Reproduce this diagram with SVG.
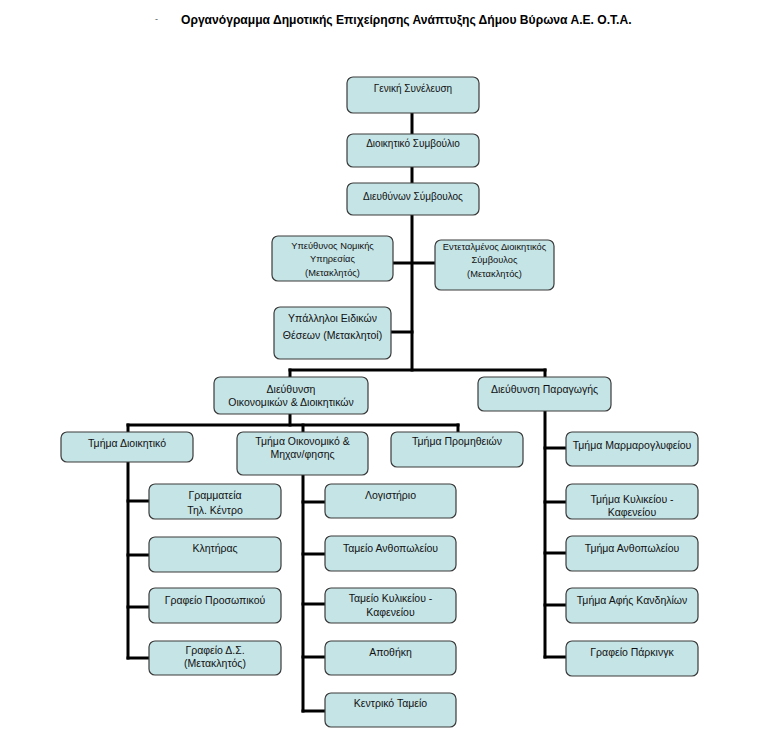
<svg xmlns="http://www.w3.org/2000/svg" width="781" height="735" viewBox="0 0 781 735">
<style>
.n rect{fill:#c5e4e6;stroke:#3a3a3a;stroke-width:1.2}
.n text{font-family:"Liberation Sans",Arial,sans-serif;font-size:10.5px;fill:#111;text-anchor:middle}
.s text{font-size:10px}
.s.t text{font-size:9.3px}
.c line{stroke:#000;stroke-width:3;stroke-linecap:square}
</style>
<rect width="781" height="735" fill="#fff"/>
<text x="155" y="22" font-family="Liberation Sans,Arial,sans-serif" font-size="9" fill="#555">-</text>
<text x="181" y="24" font-family="Liberation Sans,Arial,sans-serif" font-size="12.1" font-weight="bold" fill="#000">Οργανόγραμμα Δημοτικής Επιχείρησης Ανάπτυξης Δήμου Βύρωνα Α.Ε. Ο.Τ.Α.</text>
<g id="connectors" class="c">
<line x1="412" y1="113" x2="412" y2="370"/>
<line x1="393" y1="263" x2="435" y2="263"/>
<line x1="391" y1="332" x2="412" y2="332"/>
<line x1="290" y1="370" x2="545" y2="370"/>
<line x1="290" y1="370" x2="290" y2="425"/>
<line x1="545" y1="370" x2="545" y2="657"/>
<line x1="128" y1="425" x2="458" y2="425"/>
<line x1="458" y1="425" x2="458" y2="432"/>
<line x1="128" y1="425" x2="128" y2="658"/>
<line x1="128" y1="501" x2="149" y2="501"/>
<line x1="128" y1="555" x2="149" y2="555"/>
<line x1="128" y1="607" x2="149" y2="607"/>
<line x1="128" y1="658" x2="149" y2="658"/>
<line x1="303" y1="425" x2="303" y2="711"/>
<line x1="303" y1="502" x2="325" y2="502"/>
<line x1="303" y1="554" x2="325" y2="554"/>
<line x1="303" y1="604" x2="325" y2="604"/>
<line x1="303" y1="657" x2="325" y2="657"/>
<line x1="303" y1="711" x2="325" y2="711"/>
<line x1="545" y1="448" x2="566" y2="448"/>
<line x1="545" y1="502" x2="566" y2="502"/>
<line x1="545" y1="553" x2="566" y2="553"/>
<line x1="545" y1="605" x2="566" y2="605"/>
<line x1="545" y1="657" x2="566" y2="657"/>
</g>
<g id="n1" class="n s"><rect x="347" y="77" width="132" height="36" rx="6"/><text x="413" y="92">Γενική Συνέλευση</text></g>
<g id="n2" class="n s"><rect x="347" y="134" width="132" height="33" rx="6"/><text x="413" y="146.5">Διοικητικό Συμβούλιο</text></g>
<g id="n3" class="n s"><rect x="347" y="183" width="132" height="32" rx="6"/><text x="413" y="200">Διευθύνων Σύμβουλος</text></g>
<g id="n4" class="n s t"><rect x="272" y="236" width="121" height="45" rx="6"/><text x="332.5" y="248.5">Υπεύθυνος Νομικής</text><text x="332.5" y="262">Υπηρεσίας</text><text x="332.5" y="275.5">(Μετακλητός)</text></g>
<g id="n5" class="n s t"><rect x="435" y="240" width="119" height="50" rx="6"/><text x="494.5" y="249.5">Εντεταλμένος Διοικητικός</text><text x="494.5" y="263">Σύμβουλος</text><text x="494.5" y="276.5">(Μετακλητός)</text></g>
<g id="n6" class="n"><rect x="274" y="307" width="117" height="52" rx="6"/><text x="332.5" y="322">Υπάλληλοι Ειδικών</text><text x="332.5" y="339">Θέσεων (Μετακλητοί)</text></g>
<g id="n7" class="n"><rect x="214" y="377" width="154" height="37" rx="6"/><text x="291" y="393">Διεύθυνση</text><text x="291" y="406">Οικονομικών &amp; Διοικητικών</text></g>
<g id="n8" class="n"><rect x="478" y="377" width="133" height="34" rx="6"/><text x="544.5" y="393">Διεύθυνση Παραγωγής</text></g>
<g id="n9" class="n"><rect x="61" y="432" width="132" height="30" rx="6"/><text x="127" y="447">Τμήμα Διοικητικό</text></g>
<g id="n10" class="n"><rect x="237" y="432" width="131" height="43" rx="6"/><text x="302.5" y="445">Τμήμα Οικονομικό &amp;</text><text x="302.5" y="458">Μηχαν/φησης</text></g>
<g id="n11" class="n"><rect x="391" y="432" width="132" height="35" rx="6"/><text x="457" y="445">Τμήμα Προμηθειών</text></g>
<g id="n12" class="n"><rect x="149" y="484" width="132" height="35" rx="6"/><text x="215" y="499">Γραμματεία</text><text x="215" y="514">Τηλ. Κέντρο</text></g>
<g id="n13" class="n"><rect x="149" y="537" width="132" height="35" rx="6"/><text x="215" y="552">Κλητήρας</text></g>
<g id="n14" class="n"><rect x="149" y="588" width="132" height="35" rx="6"/><text x="215" y="604">Γραφείο Προσωπικού</text></g>
<g id="n15" class="n"><rect x="149" y="641" width="132" height="34" rx="6"/><text x="215" y="654">Γραφείο Δ.Σ.</text><text x="215" y="667">(Μετακλητός)</text></g>
<g id="n16" class="n"><rect x="325" y="484" width="131" height="34" rx="6"/><text x="390.5" y="499">Λογιστήριο</text></g>
<g id="n17" class="n"><rect x="325" y="536" width="131" height="35" rx="6"/><text x="390.5" y="552">Ταμείο Ανθοπωλείου</text></g>
<g id="n18" class="n"><rect x="325" y="588" width="131" height="35" rx="6"/><text x="390.5" y="602">Ταμείο Κυλικείου -</text><text x="390.5" y="616">Καφενείου</text></g>
<g id="n19" class="n"><rect x="325" y="641" width="131" height="34" rx="6"/><text x="390.5" y="656">Αποθήκη</text></g>
<g id="n20" class="n"><rect x="325" y="693" width="131" height="34" rx="6"/><text x="390.5" y="707">Κεντρικό Ταμείο</text></g>
<g id="n21" class="n"><rect x="566" y="432" width="132" height="34" rx="6"/><text x="632" y="449">Τμήμα Μαρμαρογλυφείου</text></g>
<g id="n22" class="n"><rect x="566" y="484" width="132" height="35" rx="6"/><text x="632" y="503">Τμήμα Κυλικείου -</text><text x="632" y="516">Καφενείου</text></g>
<g id="n23" class="n"><rect x="566" y="536" width="132" height="35" rx="6"/><text x="632" y="552">Τμήμα Ανθοπωλείου</text></g>
<g id="n24" class="n"><rect x="566" y="588" width="132" height="35" rx="6"/><text x="632" y="604">Τμήμα Αφής Κανδηλίων</text></g>
<g id="n25" class="n"><rect x="566" y="641" width="132" height="35" rx="6"/><text x="632" y="656">Γραφείο Πάρκινγκ</text></g>
</svg>
